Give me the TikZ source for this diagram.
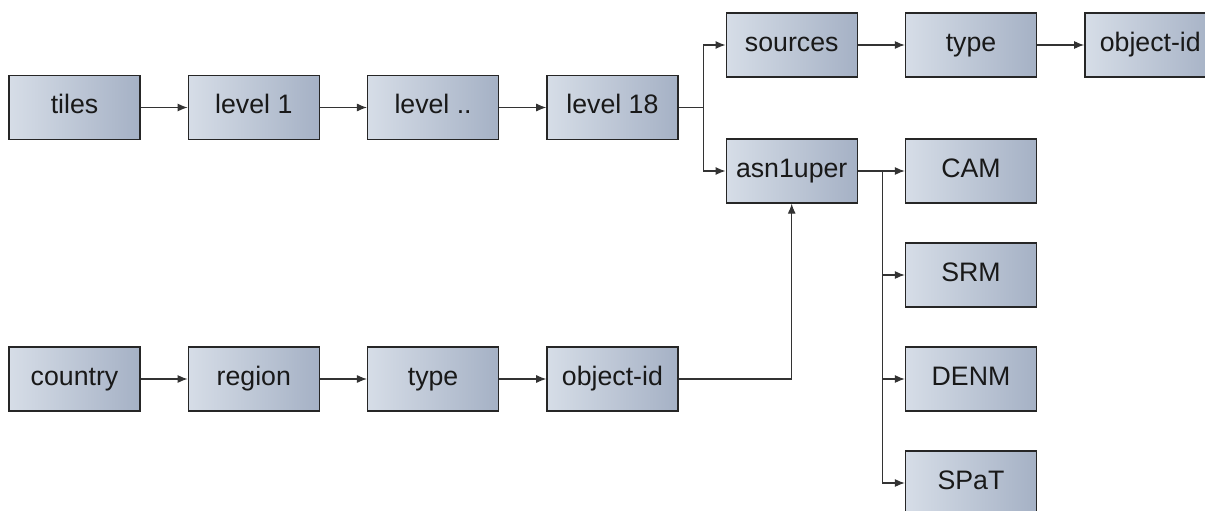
\documentclass[tikz,border=0pt]{standalone}
\usepackage{tikz}
\usetikzlibrary{arrows.meta, positioning}
\usepackage{fontspec}
\setmainfont{Liberation Sans}
\usepackage{xcolor}

\definecolor{boxleft}{RGB}{214,221,231}
\definecolor{boxmid}{RGB}{198,206,219}
\definecolor{boxright}{RGB}{165,177,197}

\begin{document}
\begin{tikzpicture}[auto, node distance=3.586cm, >={Latex[length=2mm,width=1.6mm]}]

		% Define block styles
		\tikzstyle{keybox} = [rectangle, draw=black!85, line width=0.8pt, left color=boxleft, middle color=boxmid, right color=boxright, minimum width=2.62cm, minimum height=1.28cm, text=black!90, font=\fontsize{15.2}{18}\selectfont, text height=1.38ex, text depth=0pt, text centered]
		\tikzstyle{link} = [draw=black!80, line width=0.6pt, ->]

		\useasboundingbox (0,0) rectangle (24.1,-10.22);

		% Nodes - tile path
		\node[keybox] (tiles) at (1.49,-2.15) {tiles};
		\node[keybox, right of=tiles] (level1) {level 1};
		\node[keybox, right of=level1] (leveldots) {level ..};
		\node[keybox, right of=leveldots] (level18) {level 18};
		\node[keybox, right of=level18, yshift=1.25cm] (sources) {sources};
		\node[keybox, right of=sources] (srctype) {type};
		\node[keybox, right of=srctype] (srcid) {object-id};
		\node[keybox, right of=level18, yshift=-1.27cm] (asn) {asn1uper};

		% Nodes - message types
		\node[keybox, right of=asn] (cam) {CAM};
		\node[keybox, below of=cam, node distance=2.08cm] (srm) {SRM};
		\node[keybox, below of=srm, node distance=2.08cm] (denm) {DENM};
		\node[keybox, below of=denm, node distance=2.08cm] (spat) {SPaT};

		% Nodes - region path
		\node[keybox] (country) at (1.49,-7.58) {country};
		\node[keybox, right of=country] (region) {region};
		\node[keybox, right of=region] (regtype) {type};
		\node[keybox, right of=regtype] (regid) {object-id};

		% Arrows
		\draw[link] (tiles) -- (level1);
		\draw[link] (level1) -- (leveldots);
		\draw[link] (leveldots) -- (level18);
		\draw[link] (level18.east) -- ++(0.5,0) |- (sources.west);
		\draw[link] (level18.east) -- ++(0.5,0) |- (asn.west);
		\draw[link] (sources) -- (srctype);
		\draw[link] (srctype) -- (srcid);

		\draw[link] (asn.east) -- ++(0.5,0) |- (cam.west);
		\draw[link] (asn.east) -- ++(0.5,0) |- (srm.west);
		\draw[link] (asn.east) -- ++(0.5,0) |- (denm.west);
		\draw[link] (asn.east) -- ++(0.5,0) |- (spat.west);

		\draw[link] (country) -- (region);
		\draw[link] (region) -- (regtype);
		\draw[link] (regtype) -- (regid);
		\draw[link] (regid.east) -| (asn.south);

	\end{tikzpicture}
\end{document}
